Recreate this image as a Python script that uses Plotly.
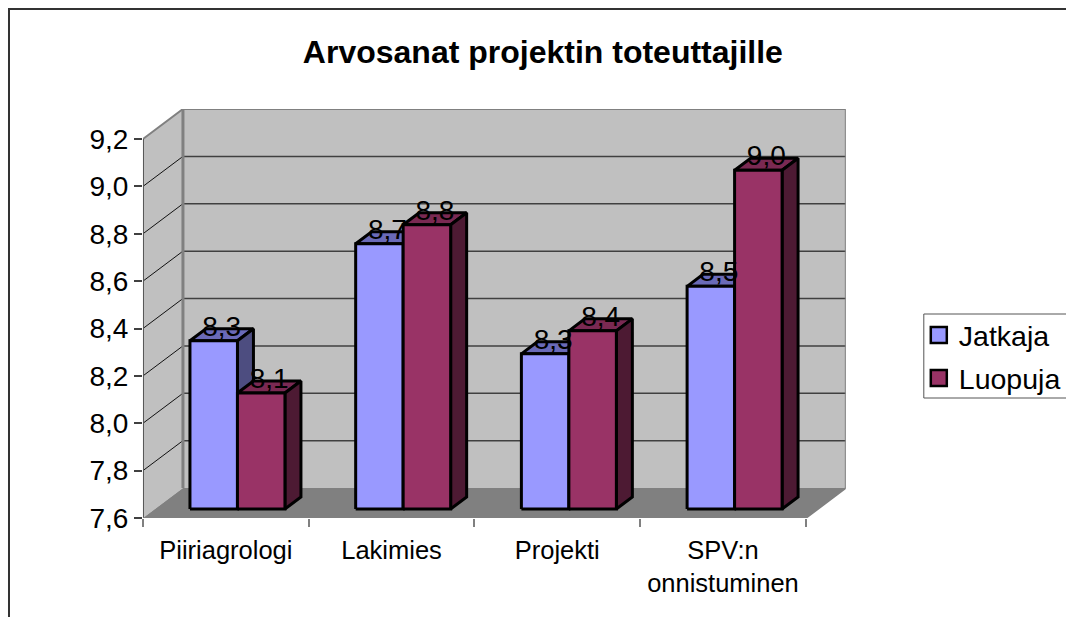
import plotly.graph_objects as go

# ---- data ----
categories = ["Piiriagrologi", "Lakimies", "Projekti", "SPV:n<br>onnistuminen"]
jatkaja = [8.31, 8.72, 8.255, 8.54]
luopuja = [8.09, 8.80, 8.352, 9.03]
y_ticks = [7.6, 7.8, 8.0, 8.2, 8.4, 8.6, 8.8, 9.0, 9.2]
title_text = "Arvosanat projektin toteuttajille"

# ---- page geometry ----
W, H = 1066, 617
LEGEND_X = 924 / W
PW = 919 / LEGEND_X        # plot width left after the legend takes its right margin
X0_PX, X1_PX, BACK_X_PX = 143, 806, 183
Y0_PX, Y1_PX, BACK_TOP_PX = 518, 139, 109

PX_PER_CAT = (X1_PX - X0_PX) / len(categories)
PX_PER_VAL = (Y0_PX - Y1_PX) / (y_ticks[-1] - y_ticks[0])
DX = (BACK_X_PX - X0_PX) / PX_PER_CAT          # wall depth in category units
DY = (Y1_PX - BACK_TOP_PX) / PX_PER_VAL        # wall depth in value units
BASE = y_ticks[0]
NCAT = len(categories)

GAP = 47 / PX_PER_CAT
BAR_W = 47.5 / PX_PER_CAT
SIDE_X = 16 / PX_PER_CAT
SIDE_Y = 12 / PX_PER_VAL
LIFT = 9 / PX_PER_VAL

EDGE = 3
BLUE = ("#9999FF", "#6A6AB8", "#4D4D80")
RED = ("#993366", "#7A2952", "#4D1A33")

fig = go.Figure()


def poly(xs, ys, fill, line_color="rgba(0,0,0,0)", width=0):
    fig.add_trace(go.Scatter(
        x=xs + xs[:1], y=ys + ys[:1], mode="lines", fill="toself", fillcolor=fill,
        line=dict(color=line_color, width=width), hoverinfo="skip", showlegend=False))


def path(xs, ys, color, width):
    fig.add_trace(go.Scatter(x=xs, y=ys, mode="lines", line=dict(color=color, width=width),
                             hoverinfo="skip", showlegend=False))


TOP = y_ticks[-1]
# walls and floor
poly([0, DX, DX, 0], [BASE, BASE + DY, TOP + DY, TOP], "#C0C0C0")
poly([DX, NCAT + DX, NCAT + DX, DX], [BASE + DY, BASE + DY, TOP + DY, TOP + DY], "#C0C0C0")
poly([0, NCAT, NCAT + DX, DX], [BASE, BASE, BASE + DY, BASE + DY], "#808080")

# gridlines
for v in y_ticks[1:-1]:
    path([0, DX], [v, v + DY], "#111111", 1)
    path([DX, NCAT + DX], [v + DY, v + DY], "#404040", 1.5)

# wall outlines
path([0, DX, NCAT + DX, NCAT + DX, NCAT], [TOP, TOP + DY, TOP + DY, BASE + DY, BASE], "#808080", 2)
path([DX, DX], [BASE + DY, TOP + DY], "#808080", 3)
path([0, 0], [BASE, TOP], "#555555", 2)
path([0, NCAT], [BASE, BASE], "#808080", 1.5)

# columns
label_x, label_y, label_text = [], [], []
for i in range(NCAT):
    for j, (vals, cols) in enumerate(((jatkaja, BLUE), (luopuja, RED))):
        x0 = i + GAP + j * BAR_W
        x1 = x0 + BAR_W
        y0 = BASE + LIFT
        y1 = vals[i] + LIFT
        poly([x0, x1, x1 + SIDE_X, x0 + SIDE_X], [y1, y1, y1 + SIDE_Y, y1 + SIDE_Y],
             cols[1], "#000000", EDGE)
        poly([x1, x1 + SIDE_X, x1 + SIDE_X, x1], [y0, y0 + SIDE_Y, y1 + SIDE_Y, y1],
             cols[2], "#000000", EDGE)
        poly([x0, x1, x1, x0], [y0, y0, y1, y1], cols[0], "#000000", EDGE)
        label_x.append((x0 + x1) / 2 + SIDE_X / 2)
        label_y.append(y1 + SIDE_Y)
        label_text.append(f"{vals[i]:.1f}".replace(".", ","))

# data labels
fig.add_trace(go.Scatter(x=label_x, y=label_y, mode="text", text=label_text,
                         textposition="middle center", cliponaxis=False,
                         textfont=dict(size=28, color="#000000"),
                         hoverinfo="skip", showlegend=False))

# legend entries
for name, cols in (("Jatkaja", BLUE), ("Luopuja", RED)):
    fig.add_trace(go.Scatter(x=[None], y=[None], mode="markers", name=name, legendgroup=name,
                             marker=dict(symbol="square", size=17, color=cols[0],
                                         line=dict(color="#000000", width=2.5))))

fig.update_layout(
    width=W, height=H, autosize=False,
    margin=dict(l=0, r=0, t=0, b=0),
    paper_bgcolor="#FFFFFF", plot_bgcolor="rgba(0,0,0,0)",
    font=dict(family="Liberation Sans, Arial, sans-serif", color="#000000"),
    separators=", ",
    title=dict(text=title_text, x=543 / PW, xanchor="center", xref="paper",
               y=1 - 52 / H, yanchor="middle", yref="paper",
               font=dict(size=32, color="#000000", family="Liberation Sans, Arial, sans-serif", weight="bold")),
    xaxis=dict(domain=[X0_PX / PW, (X0_PX + (NCAT + DX) * PX_PER_CAT) / PW], automargin=False,
               range=[0, NCAT + DX], showgrid=False, zeroline=False, showline=False,
               tickmode="array", tickvals=[i + 0.5 for i in range(NCAT)], ticktext=categories,
               ticks="", ticklabelstandoff=14, tickfont=dict(size=25.5, color="#000000"),
               minor=dict(tickmode="array", tickvals=list(range(NCAT + 1)), ticks="outside",
                          ticklen=8, tickwidth=1.5, tickcolor="#808080", showgrid=False)),
    yaxis=dict(domain=[1 - Y0_PX / H, 1 - BACK_TOP_PX / H], automargin=False,
               range=[BASE, TOP + DY], showgrid=False, zeroline=False, showline=False,
               tickmode="array", tickvals=y_ticks, tickformat=".1f", ticks="outside",
               ticklen=8, tickwidth=1.5, tickcolor="#404040",
               tickfont=dict(size=28, color="#000000")),
    legend=dict(x=LEGEND_X, xanchor="left", y=1 - 310 / H, yanchor="top",
                bgcolor="rgba(0,0,0,0)", borderwidth=0,
                font=dict(size=28.5, color="#000000"), itemwidth=30,
                entrywidth=60, entrywidthmode="pixels", tracegroupgap=3, itemclick=False),
    shapes=[dict(type="rect", xref="paper", yref="paper", x0=9 / PW, x1=1.2, y0=-0.2, y1=1 - 9 / H,
                 line=dict(color="#333333", width=2), fillcolor="rgba(0,0,0,0)", layer="below"),
            dict(type="rect", xref="paper", yref="paper", x0=924 / PW, x1=1.2, y0=1 - 398 / H, y1=1 - 314 / H,
                 line=dict(color="#555555", width=1), fillcolor="#FFFFFF", layer="below")],
)

fig.write_html("out.html", config=dict(displayModeBar=False),
               post_script="document.body.style.margin='0';")
